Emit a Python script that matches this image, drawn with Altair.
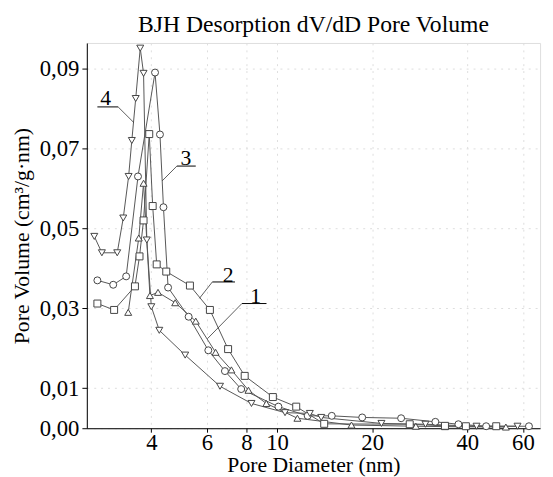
import altair as alt
import pandas as pd

# Series 1: triangle-up
s1_x = [3.38, 3.65, 3.78, 3.96, 4.2, 4.76, 5.53, 6.39, 7.17, 8.12, 9.25, 11.6, 17.2, 27.5, 34.0, 53.0]
s1_y = [0.029, 0.0476, 0.0613, 0.0332, 0.034, 0.0314, 0.0268, 0.019, 0.0146, 0.0095, 0.0062, 0.0025, 0.0008, 0.0005, 0.0004, 0.0003]
# Series 2: square
s2_x = [2.70, 3.05, 3.55, 3.67, 3.78, 3.94, 4.04, 4.16, 4.46, 5.3, 6.13, 7.0, 7.9, 9.7, 11.5, 14.1, 26.3, 34.0, 39.6, 49.4]
s2_y = [0.0312, 0.0296, 0.0355, 0.043, 0.052, 0.0736, 0.0556, 0.041, 0.0392, 0.0357, 0.0296, 0.0198, 0.0131, 0.0078, 0.0054, 0.0011, 0.001, 0.0006, 0.0005, 0.0005]
# Series 3: circle
s3_x = [2.70, 3.03, 3.33, 3.63, 4.11, 4.26, 4.37, 4.52, 5.25, 6.06, 6.84, 7.7, 10.1, 12.5, 14.9, 18.6, 24.7, 31.7, 37.5, 45.9, 62.7]
s3_y = [0.037, 0.0359, 0.038, 0.063, 0.089, 0.0735, 0.0553, 0.0352, 0.0279, 0.0195, 0.0143, 0.0098, 0.0054, 0.0031, 0.0031, 0.0027, 0.0025, 0.0016, 0.001, 0.0005, 0.0005]
# Series 4: triangle-down
s4_x = [2.64, 2.79, 3.12, 3.26, 3.39, 3.47, 3.57, 3.69, 3.78, 3.87, 4.0, 4.24, 5.12, 6.6, 8.3, 10.6, 12.7, 13.8, 21.4, 29.5, 42.8, 57.7]
s4_y = [0.048, 0.0439, 0.0439, 0.0526, 0.063, 0.072, 0.0825, 0.0951, 0.0888, 0.0471, 0.0304, 0.0245, 0.0183, 0.0105, 0.0062, 0.0039, 0.0037, 0.0027, 0.0012, 0.001, 0.0005, 0.0005]

series_names = ["1", "2", "3", "4"]
shapes = ["triangle-up", "square", "circle", "triangle-down"]

x_ticks = [4, 6, 8, 10, 20, 40, 60]
y_ticks = [0.0, 0.01, 0.03, 0.05, 0.07, 0.09]

# curve labels with leader lines (data coordinates)
lab_text = ["4", "3", "2", "1"]
lab_x = [2.87, 5.15, 7.0, 8.55]
lab_y = [0.0825, 0.0676, 0.0384, 0.033]
und_x1 = [2.70, 4.82, 6.24, 7.74]
und_x2 = [3.14, 5.53, 7.36, 9.26]
und_y = [0.0804, 0.0656, 0.0366, 0.0312]
lead_x1 = [3.14, 4.82, 6.24, 7.74]
lead_x2 = [3.52, 4.33, 5.68, 6.02]
lead_y2 = [0.0765, 0.0619, 0.0325, 0.0224]

rows = []
for name, xs, ys in zip(series_names, [s1_x, s2_x, s3_x, s4_x], [s1_y, s2_y, s3_y, s4_y]):
    for i, (a, b) in enumerate(zip(xs, ys)):
        rows.append({"series": name, "d": a, "v": b, "i": i})
df = pd.DataFrame(rows)

lab_df = pd.DataFrame({"t": lab_text, "x": lab_x, "y": lab_y})
und_df = pd.DataFrame({"x": und_x1, "x2": und_x2, "y": und_y})
lead_df = pd.DataFrame({"x": lead_x1, "y": und_y, "x2": lead_x2, "y2": lead_y2})

FONT = "Liberation Serif"
xscale = alt.Scale(type="log", domain=[2.5, 68], nice=False)
yscale = alt.Scale(domain=[0, 0.0964], nice=False, zero=False)

X = alt.X("d:Q", scale=xscale,
          axis=alt.Axis(title="Pore Diameter (nm)", values=x_ticks, format="d", grid=True,
                        gridDash=[2, 5], gridColor="#dddddd", labelFontSize=23, titleFontSize=22,
                        labelFont=FONT, titleFont=FONT, titleFontWeight="normal", tickSize=4,
                        domainColor="black", tickColor="black", labelColor="black", titleColor="black",
                        labelPadding=0, titlePadding=0, labelFlush=False))
Y = alt.Y("v:Q", scale=yscale,
          axis=alt.Axis(title="Pore Volume (cm³/g·nm)", values=y_ticks, grid=True,
                        labelExpr="replace(format(datum.value, '.2f'), '.', ',')",
                        gridDash=[2, 5], gridColor="#dddddd", labelFontSize=23, titleFontSize=22,
                        labelFont=FONT, titleFont=FONT, titleFontWeight="normal", tickSize=5,
                        domainColor="black", tickColor="black", labelColor="black", titleColor="black",
                        labelPadding=3, titlePadding=6))

base = alt.Chart(df)
lines = base.mark_line(color="#555555", strokeWidth=1).encode(
    x=X, y=Y, detail="series:N", order="i:Q")
points = base.mark_point(filled=True, fill="white", stroke="#444444", strokeWidth=1, size=50, opacity=1).encode(
    x="d:Q", y="v:Q",
    shape=alt.Shape("series:N", scale=alt.Scale(domain=series_names, range=shapes), legend=None))

und = alt.Chart(und_df).mark_rule(color="black", strokeWidth=1).encode(
    x="x:Q", x2="x2:Q", y="y:Q")
lead = alt.Chart(lead_df).mark_rule(color="#333333", strokeWidth=0.8).encode(
    x="x:Q", x2="x2:Q", y="y:Q", y2="y2:Q")
labs = alt.Chart(lab_df).mark_text(font=FONT, fontSize=22, color="black", baseline="middle").encode(
    x="x:Q", y="y:Q", text="t:N")

chart = alt.layer(lines, points, und, lead, labs).properties(
    width=460, height=391,
    title=alt.TitleParams("BJH Desorption dV/dD Pore Volume", font=FONT, fontSize=24,
                          fontWeight="normal", color="black", offset=6),
    autosize=alt.AutoSizeParams(type="none"),
    padding={"left": 80, "top": 32, "right": 5, "bottom": 46},
).configure_view(stroke=None).configure(background="white")

chart.save("out.html", embed_options={"renderer": "svg", "actions": False})
